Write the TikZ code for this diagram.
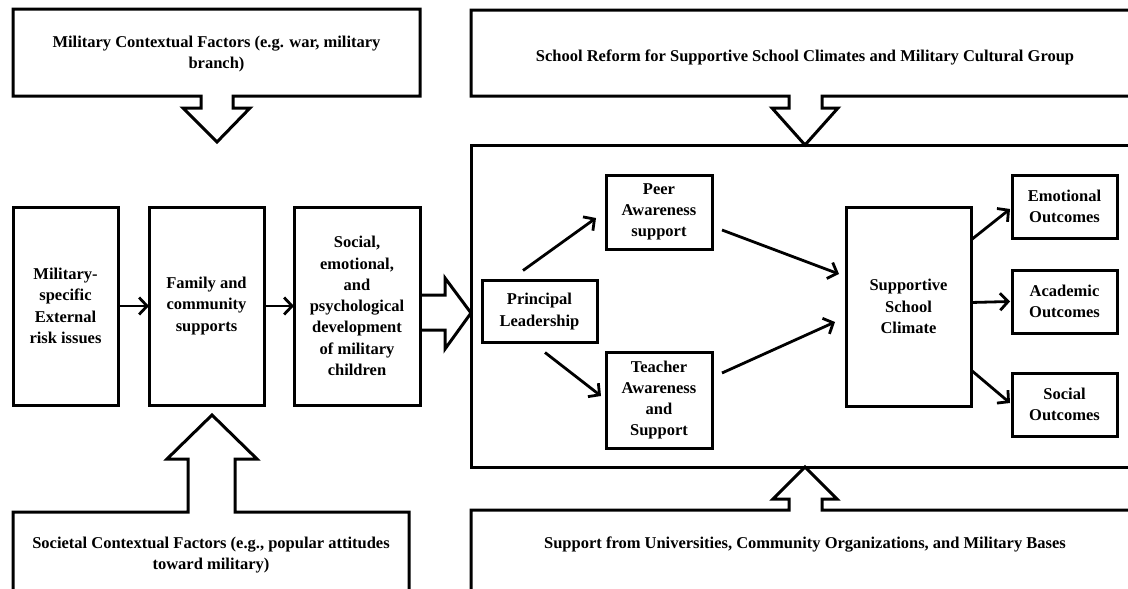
\documentclass[tikz,border=0pt]{standalone}
\usepackage{fontspec}
\setmainfont{Liberation Serif}
\usetikzlibrary{arrows.meta,calc}
\begin{document}
\begin{tikzpicture}[x=1pt,y=-1pt,
  every node/.style={font=\bfseries\fontsize{16.5}{21.3}\selectfont, align=center, inner sep=0pt, outer sep=0pt},
  boxln/.style={line width=3pt, line join=miter, miter limit=20},
  inbox/.style={draw, line width=3pt},
  conn/.style={line width=2.8pt, -{Straight Barb[length=8pt,width=17pt,line width=2.8pt]}}
]
\useasboundingbox (0,0) rectangle (1128,589);
\clip (0,0) rectangle (1128,589);
\fill[white] (0,0) rectangle (1128,589);

% ---------- left part ----------
\node[minimum width=407pt, minimum height=87pt] (mcf) at (216.5,54)
  {Military Contextual Factors (e.g. war, military\\branch)};
\draw[boxln] (13,96) -- (13,9) -- (420,9) -- (420,96)
  -- (233,96) -- (233,108) -- (250,108) -- (217,142) -- (183,108) -- (201,108) -- (201,96) -- cycle;

\node[inbox, minimum width=105pt, minimum height=198pt] (b1) at (65.5,306)
  {Military-\\specific\\External\\risk issues};
\node[inbox, minimum width=115pt, minimum height=198pt] (b2) at (206.5,306)
  {Family and\\community\\supports};
\node[inbox, minimum width=126pt, minimum height=198pt] (b3) at (357,306)
  {Social,\\emotional,\\and\\psychological\\development\\of military\\children};

\draw[conn] (b1.east) -- (b2.west);
\draw[conn] (b2.east) -- (b3.west);

\node[minimum width=396pt, minimum height=86pt] (scf) at (211,555)
  {Societal Contextual Factors (e.g., popular attitudes\\toward military)};
\draw[boxln] (scf.north west) -- (188,512) -- (188,459) -- (167,459) -- (212,415) -- (257,459)
  -- (235,459) -- (235,512) -- (scf.north east) -- (scf.south east) -- (scf.south west) -- cycle;

% ---------- right part ----------
\node[minimum width=668pt, minimum height=86pt] (src) at (805,57)
  {School Reform for Supportive School Climates and Military Cultural Group};
\draw[boxln] (471,96) -- (471,10) -- (1139,10) -- (1139,96)
  -- (822,96) -- (822,108) -- (838,108) -- (805,145) -- (772,108) -- (789,108) -- (789,96) -- cycle;

\node[inbox, minimum width=668pt, minimum height=322pt] (school) at (805,306) {};

% block arrow from development box into school box
\draw[boxln] (b3.east |- 0,295) -- (445,295) -- (445,278) -- (school.west |- 0,313) -- (445,349) -- (445,330) -- (b3.east |- 0,330);

\node[minimum width=668pt, minimum height=70pt] (ssp) at (805,545)
  {Support from Universities, Community Organizations, and Military Bases};
\draw[boxln] ($(ssp.north west)+(0,90)$) -- (ssp.north west) -- (789,510) -- (789,499) -- (773,499)
  -- (school.south) -- (837,499) -- (822,499) -- (822,510) -- (ssp.north east) -- ++(0,90);

\node[inbox, minimum width=115pt, minimum height=62pt] (pl) at (539.5,311.5) {Principal\\Leadership};
\node[inbox, minimum width=106pt, minimum height=74pt] (peer) at (659,212) {Peer\\Awareness\\support};
\node[inbox, minimum width=106pt, minimum height=96pt] (teach) at (659,400) {Teacher\\Awareness\\and\\Support};
\node[inbox, minimum width=125pt, minimum height=199pt] (ssc) at (908.5,306.5) {Supportive\\School\\Climate};
\node[inbox, minimum width=105pt, minimum height=63pt] (emo) at (1064.5,206.5) {Emotional\\Outcomes};
\node[inbox, minimum width=105pt, minimum height=63pt] (acad) at (1064.5,301.5) {Academic\\Outcomes};
\node[inbox, minimum width=105pt, minimum height=63pt] (soc) at (1064.5,404.5) {Social\\Outcomes};

\draw[conn] ($(pl.north)+(-16.5,-10)$) -- ($(peer.west)+(-10,6)$);
\draw[conn] ($(pl.south)+(5.5,10)$) -- ($(teach.west)+(-5,-4)$);
\draw[conn] ($(peer.east)+(10,18)$) -- ($(ssc.west)+(-7,-32.5)$);
\draw[conn] ($(teach.east)+(10,-27)$) -- ($(ssc.west)+(-11,15.5)$);
\draw[conn] ($(ssc.east)+(0,-66.5)$) -- ($(emo.west)+(-2,2.5)$);
\draw[conn] ($(ssc.east)+(0,-4)$) -- ($(acad.west)+(-2,0)$);
\draw[conn] ($(ssc.east)+(0,63.5)$) -- ($(soc.west)+(-2,-1.5)$);
\end{tikzpicture}
\end{document}
